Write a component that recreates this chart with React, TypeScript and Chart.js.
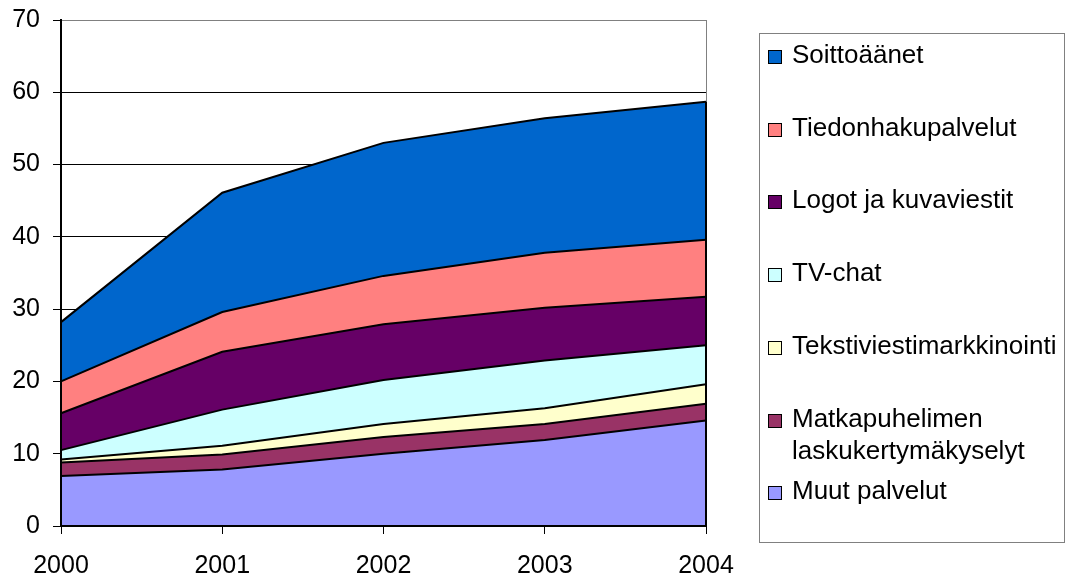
import React, { useEffect, useRef } from "react";
import { Chart, registerables } from "chart.js";

Chart.register(...registerables);

const years = ["2000", "2001", "2002", "2003", "2004"];
const yTicks = [0, 10, 20, 30, 40, 50, 60, 70];

// bottom to top
const muutPalvelut = [6.9, 7.8, 10.0, 11.9, 14.6];
const matkapuhelimen = [1.9, 2.1, 2.3, 2.2, 2.3];
const tekstiviesti = [0.4, 1.2, 1.8, 2.2, 2.7];
const tvChat = [1.3, 5.0, 6.1, 6.6, 5.4];
const logot = [5.1, 8.0, 7.7, 7.3, 6.7];
const tiedonhaku = [4.4, 5.5, 6.7, 7.6, 7.9];
const soittoaanet = [8.2, 16.5, 18.4, 18.6, 19.1];

const seriesNames = [
  "Muut palvelut",
  "Matkapuhelimen laskukertymäkyselyt",
  "Tekstiviestimarkkinointi",
  "TV-chat",
  "Logot ja kuvaviestit",
  "Tiedonhakupalvelut",
  "Soittoäänet",
];
const legendLines = [
  ["Muut palvelut"],
  ["Matkapuhelimen", "laskukertymäkyselyt"],
  ["Tekstiviestimarkkinointi"],
  ["TV-chat"],
  ["Logot ja kuvaviestit"],
  ["Tiedonhakupalvelut"],
  ["Soittoäänet"],
];
const seriesValues = [muutPalvelut, matkapuhelimen, tekstiviesti, tvChat, logot, tiedonhaku, soittoaanet];
const seriesColors = ["#9999FF", "#993366", "#FFFFCC", "#CCFFFF", "#660066", "#FF8080", "#0066CC"];

const FONT = "'Liberation Sans', Arial, sans-serif";

const framePlugin = {
  id: "frame",
  beforeDatasetsDraw(chart: any) {
    const { ctx, chartArea } = chart;
    ctx.save();
    ctx.strokeStyle = "#808080";
    ctx.lineWidth = 1;
    ctx.beginPath();
    ctx.moveTo(chartArea.right + 0.5, chartArea.top);
    ctx.lineTo(chartArea.right + 0.5, chartArea.bottom);
    ctx.stroke();
    ctx.restore();
  },
  afterDatasetsDraw(chart: any) {
    const { ctx, chartArea, scales } = chart;
    const last = years.length - 1;
    const total = seriesValues.reduce((s, arr) => s + arr[last], 0);
    const yTop = scales.y.getPixelForValue(total);
    const xr = scales.x.getPixelForValue(last);
    ctx.save();
    ctx.strokeStyle = "#000";
    ctx.lineWidth = 2;
    ctx.beginPath();
    ctx.moveTo(xr, chartArea.bottom);
    ctx.lineTo(xr, yTop);
    ctx.stroke();
    ctx.beginPath();
    ctx.moveTo(chartArea.left, chartArea.top);
    ctx.lineTo(chartArea.left, chartArea.bottom);
    ctx.lineTo(chartArea.right, chartArea.bottom);
    ctx.stroke();
    ctx.restore();
  },
};

export default function App() {
  const canvasRef = useRef<HTMLCanvasElement>(null);

  useEffect(() => {
    const chart = new Chart(canvasRef.current!, {
      type: "line",
      data: {
        labels: years,
        datasets: seriesValues.map((vals, i) => ({
          label: seriesNames[i],
          data: vals,
          backgroundColor: seriesColors[i],
          borderColor: "#000",
          borderWidth: 2,
          pointRadius: 0,
          tension: 0,
          fill: i === 0 ? "origin" : "-1",
        })),
      },
      options: {
        animation: false,
        responsive: true,
        maintainAspectRatio: false,
        layout: { padding: { top: 20, right: 362, left: 0, bottom: 0 } },
        plugins: { legend: { display: false }, tooltip: { enabled: false } },
        scales: {
          x: {
            offset: false,
            grid: { drawOnChartArea: false, drawTicks: true, tickLength: 8, color: "#000", lineWidth: 1 },
            border: { color: "#000", width: 2 },
            ticks: { color: "#000", font: { family: FONT, size: 25 }, padding: 17, maxRotation: 0, autoSkip: false },
            afterFit: (axis: any) => {
              axis.height = 48;
            },
          },
          y: {
            stacked: true,
            min: 0,
            max: 70,
            afterBuildTicks: (axis: any) => {
              axis.ticks = yTicks.map((v) => ({ value: v }));
            },
            grid: {
              color: (c: any) => (c.tick && c.tick.value === 70 ? "#808080" : "#000"),
              tickColor: "#000",
              tickLength: 8,
              lineWidth: 1,
            },
            border: { color: "#000", width: 2 },
            ticks: { color: "#000", font: { family: FONT, size: 25 }, padding: 13 },
            afterFit: (axis: any) => {
              axis.width = 61;
              axis.paddingTop = 20;
              axis.paddingBottom = 0;
            },
          },
        },
      },
      plugins: [framePlugin],
    });
    return () => chart.destroy();
  }, []);

  const order = seriesNames.map((_, i) => seriesNames.length - 1 - i);

  return (
    <div style={{ position: "absolute", left: 0, top: 0, width: 1068, height: 574, background: "#fff" }}>
      <canvas ref={canvasRef} />
      <div
        style={{
          position: "absolute",
          left: 759,
          top: 33,
          width: 304,
          height: 508,
          border: "1px solid #808080",
          fontFamily: FONT,
          fontSize: 26,
          lineHeight: "32px",
          color: "#000",
        }}
      >
        {order.map((si, k) => (
          <div key={si} style={{ position: "absolute", left: 32, top: 4 + k * 72.7, whiteSpace: "nowrap" }}>
            <div
              style={{
                position: "absolute",
                left: -24,
                top: 12,
                width: 12,
                height: 12,
                background: seriesColors[si],
                border: "1.5px solid #000",
              }}
            />
            {legendLines[si].map((l, j) => (
              <div key={j}>{l}</div>
            ))}
          </div>
        ))}
      </div>
    </div>
  );
}
